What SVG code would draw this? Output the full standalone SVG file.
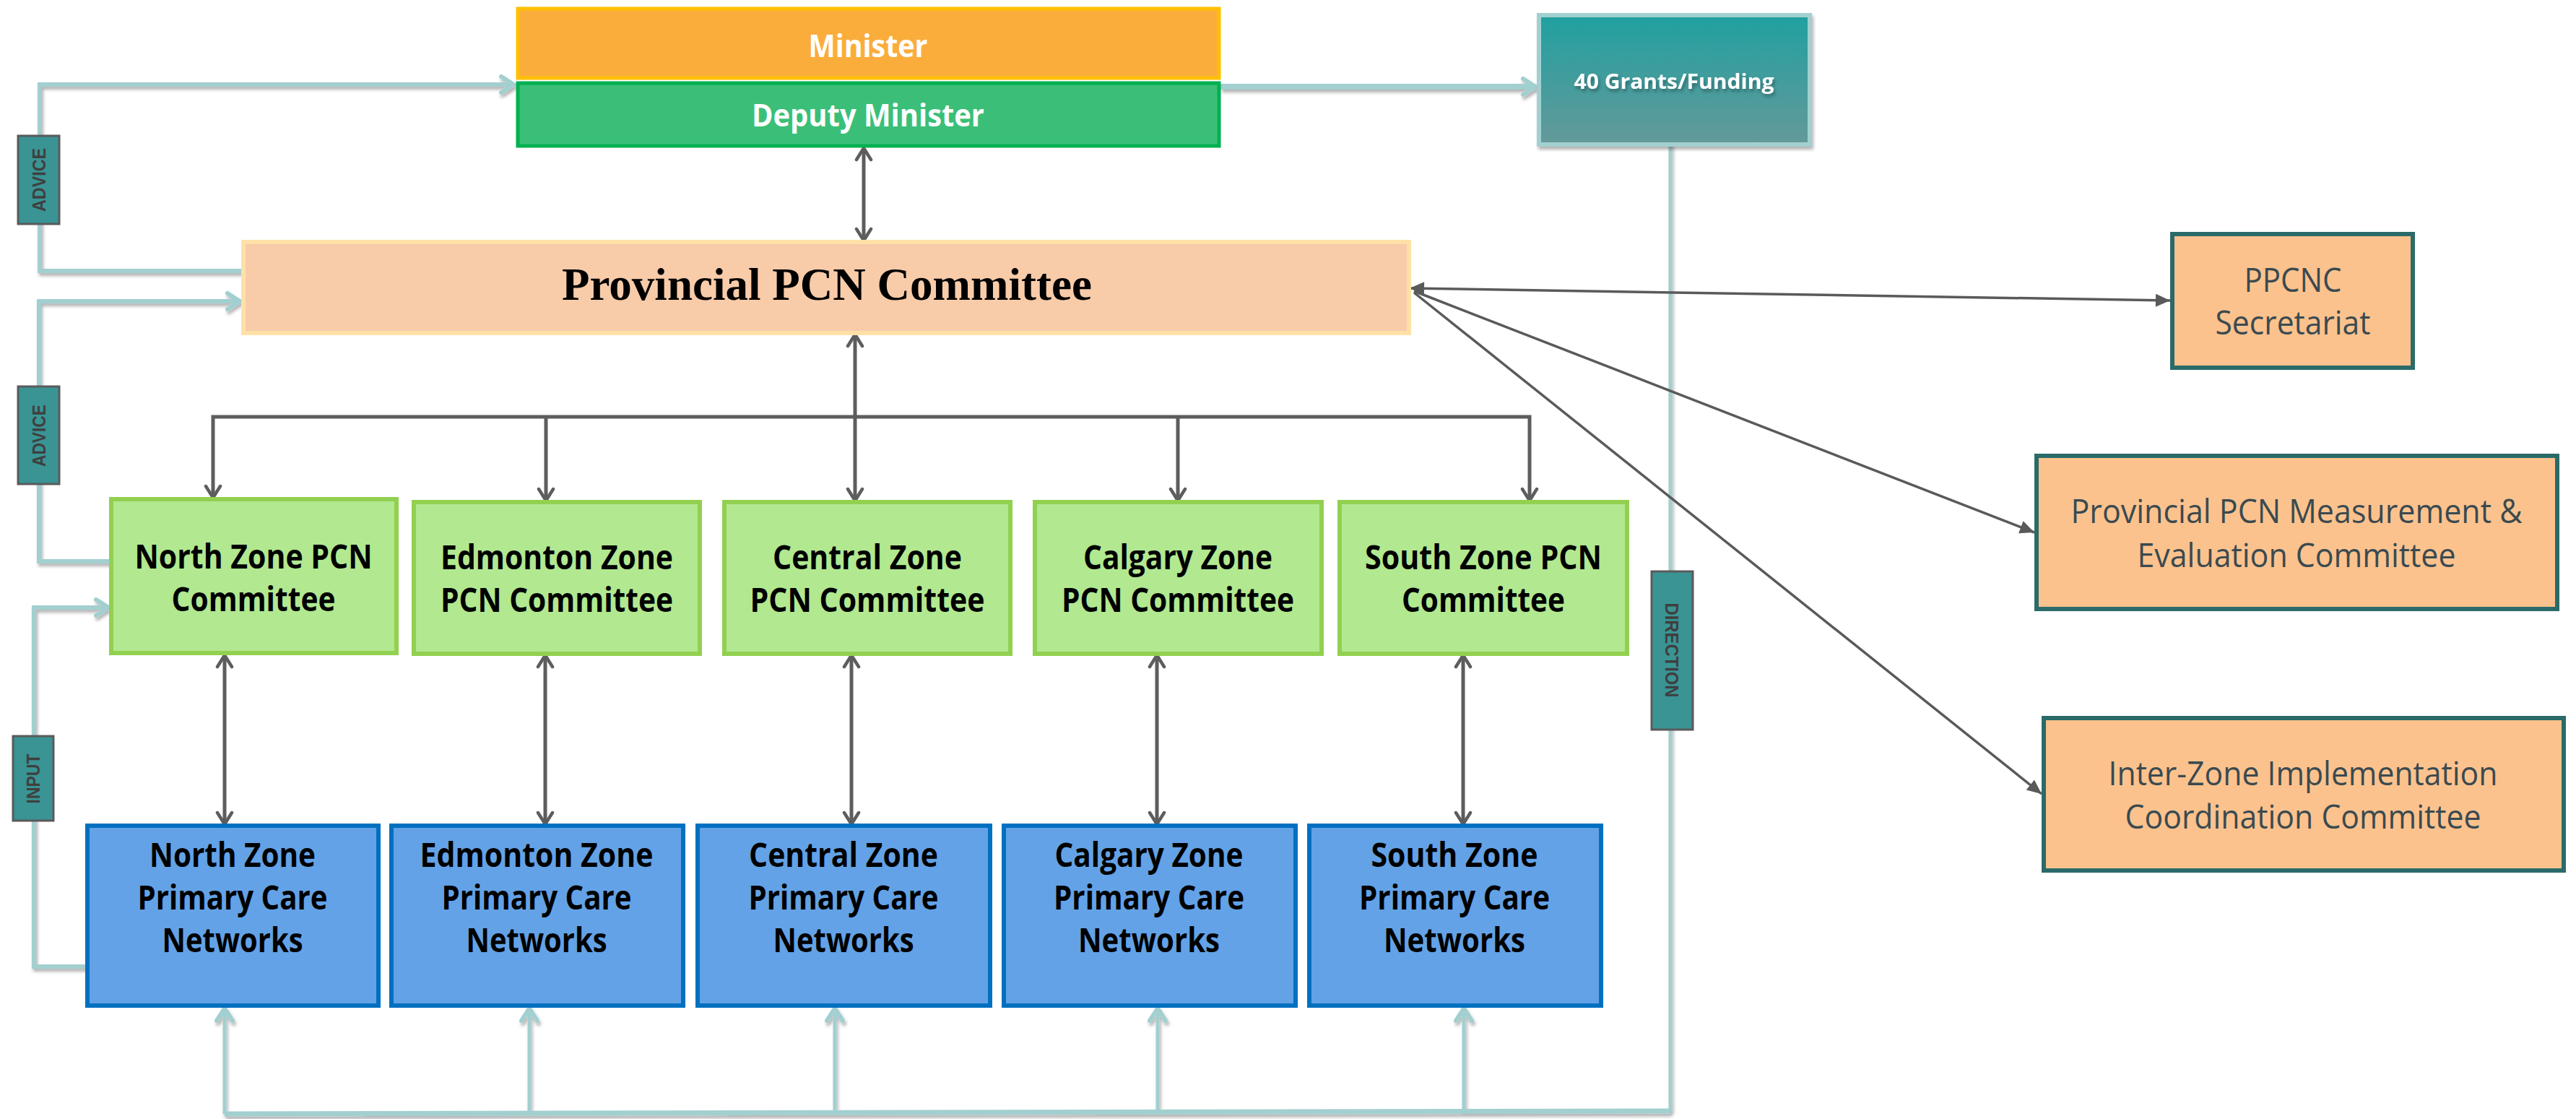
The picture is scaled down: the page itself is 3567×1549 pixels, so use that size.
<svg xmlns="http://www.w3.org/2000/svg" width="3567" height="1549" viewBox="0 0 3567 1549">
<style>
.sans{font-family:"Open Sans","Noto Sans","Liberation Sans",sans-serif;text-anchor:middle}
.b{font-weight:bold}
.zone{font-size:47px;fill:#000}
.side{font-size:45px;fill:#3A4A50}
.lbl{font-family:"Liberation Sans",Arial,sans-serif;font-weight:bold;font-size:25px;fill:#3F3F3F;text-anchor:middle}
.green{fill:#B1E890;stroke:#92D050;stroke-width:6}
.blue{fill:#63A2E6;stroke:#0070C0;stroke-width:6}
.peach{fill:#FCC28D;stroke:#2A6B6A;stroke-width:6}
.tag{fill:#3A9494;stroke:#5A5A5A;stroke-width:3}
.dk{fill:none;stroke:#5D5D5D;stroke-width:5}
.thin{fill:none;stroke:#5A5A5A;stroke-width:3.5}
.lb{fill:none;stroke:#A2CFD0}
</style>
<defs>
<linearGradient id="gg" x1="0" y1="0" x2="0" y2="1">
<stop offset="0" stop-color="#21A0A0"/>
<stop offset="1" stop-color="#64999A"/>
</linearGradient>
<filter id="sh" filterUnits="userSpaceOnUse" x="0" y="0" width="3567" height="1549">
<feDropShadow dx="2" dy="4" stdDeviation="2" flood-color="#000" flood-opacity="0.3"/>
</filter>
<marker id="lbm" viewBox="-24 -16 28 32" refX="0" refY="0" markerWidth="28" markerHeight="32" markerUnits="userSpaceOnUse" orient="auto">
<path d="M-17,-11 L0,0 L-17,11" fill="none" stroke="#A2CFD0" stroke-width="6" stroke-linecap="round"/>
</marker>
<marker id="dv" viewBox="-22 -14 26 28" refX="0" refY="0" markerWidth="26" markerHeight="28" markerUnits="userSpaceOnUse" orient="auto-start-reverse">
<path d="M-16,-10 L0,0 L-16,10" fill="none" stroke="#5D5D5D" stroke-width="4.5" stroke-linecap="round"/>
</marker>
<marker id="ft" viewBox="-24 -12 26 24" refX="0" refY="0" markerWidth="26" markerHeight="24" markerUnits="userSpaceOnUse" orient="auto-start-reverse">
<path d="M0,0 L-20,-9 L-20,9 Z" fill="#5A5A5A"/>
</marker>
</defs>
<rect width="3567" height="1549" fill="#fff"/>

<g id="connectors">
<g filter="url(#sh)">
<path class="lb" stroke-width="8" d="M1690,120 H2126" marker-end="url(#lbm)"/>
<path class="lb" stroke-width="6" d="M336,375 H55 V117 H711" marker-end="url(#lbm)"/>
<path class="lb" stroke-width="6" d="M154,777 H54 V417 H332" marker-end="url(#lbm)"/>
<path class="lb" stroke-width="6" d="M121,1338 H47 V841 H150" marker-end="url(#lbm)"/>
<path class="lb" stroke-width="5" d="M2313,195 V1539"/>
<path class="lb" stroke-width="7" d="M2313,1538 L311,1542"/>
<path class="lb" stroke-width="5" d="M311,1542 V1396" marker-end="url(#lbm)"/>
<path class="lb" stroke-width="5" d="M733,1541 V1396" marker-end="url(#lbm)"/>
<path class="lb" stroke-width="5" d="M1156,1541 V1396" marker-end="url(#lbm)"/>
<path class="lb" stroke-width="5" d="M1603,1540 V1396" marker-end="url(#lbm)"/>
<path class="lb" stroke-width="5" d="M2027,1539 V1396" marker-end="url(#lbm)"/>
</g>
<path class="dk" d="M1196,205 V333" marker-start="url(#dv)" marker-end="url(#dv)"/>
<path class="dk" d="M1184,463 V693" marker-start="url(#dv)" marker-end="url(#dv)"/>
<path class="dk" d="M295,689 V577 H2118 V693" marker-start="url(#dv)" marker-end="url(#dv)"/>
<path class="dk" d="M756,577 V693" marker-end="url(#dv)"/>
<path class="dk" d="M1631,577 V693" marker-end="url(#dv)"/>
<path class="dk" d="M311,907 V1141" marker-start="url(#dv)" marker-end="url(#dv)"/>
<path class="dk" d="M755,907 V1141" marker-start="url(#dv)" marker-end="url(#dv)"/>
<path class="dk" d="M1179,907 V1141" marker-start="url(#dv)" marker-end="url(#dv)"/>
<path class="dk" d="M1602,907 V1141" marker-start="url(#dv)" marker-end="url(#dv)"/>
<path class="dk" d="M2026,907 V1141" marker-start="url(#dv)" marker-end="url(#dv)"/>
<path class="thin" stroke-width="4" d="M1952,399 L3005,416" marker-start="url(#ft)" marker-end="url(#ft)"/>
<path class="thin" d="M1958,403 L2817,737" marker-end="url(#ft)"/>
<path class="thin" d="M1958,405 L2827,1099" marker-end="url(#ft)"/>
</g>

<g id="labels">
<rect class="tag" x="25" y="188" width="57" height="122"/>
<text class="lbl" transform="translate(54,249) rotate(-90)" dy="9" textLength="88" lengthAdjust="spacingAndGlyphs">ADVICE</text>
<rect class="tag" x="25" y="535" width="57" height="135"/>
<text class="lbl" transform="translate(54,603) rotate(-90)" dy="9" textLength="86" lengthAdjust="spacingAndGlyphs">ADVICE</text>
<rect class="tag" x="18" y="1019" width="56" height="117"/>
<text class="lbl" transform="translate(46,1078) rotate(-90)" dy="9" textLength="69" lengthAdjust="spacingAndGlyphs">INPUT</text>
<rect class="tag" x="2287" y="791" width="57" height="219"/>
<text class="lbl" transform="translate(2315,900) rotate(90)" dy="9" textLength="131" lengthAdjust="spacingAndGlyphs">DIRECTION</text>
</g>

<g id="minister">
<rect x="717" y="12" width="971" height="96" fill="#FBAD3C" stroke="#FFC000" stroke-width="5"/>
<text class="sans b" x="1202" y="79" font-size="43" fill="#fff" textLength="165" lengthAdjust="spacingAndGlyphs">Minister</text>
</g>
<g id="deputy-minister">
<rect x="717" y="115" width="971" height="87" fill="#3BBF78" stroke="#00B050" stroke-width="5"/>
<text class="sans b" x="1202" y="175" font-size="43" fill="#fff" textLength="322" lengthAdjust="spacingAndGlyphs">Deputy Minister</text>
</g>
<g id="grants">
<rect x="2131" y="21" width="375" height="179" fill="url(#gg)" stroke="#A2D0D0" stroke-width="6" filter="url(#sh)"/>
<text class="sans b" x="2318" y="123" font-size="29" fill="#fff" textLength="277" lengthAdjust="spacingAndGlyphs" filter="url(#sh)">40 Grants/Funding</text>
</g>
<g id="provincial-pcn">
<rect x="337" y="335" width="1614" height="126" fill="#F8CBA9" stroke="#FFE1A8" stroke-width="6"/>
<text x="1145" y="415" font-family="'Liberation Serif','Times New Roman',serif" font-weight="bold" font-size="64" text-anchor="middle" fill="#000" textLength="734" lengthAdjust="spacingAndGlyphs">Provincial PCN Committee</text>
</g>
<g id="ppcnc">
<rect class="peach" x="3008" y="324" width="333" height="185"/>
<text class="sans side" x="3175" y="404" textLength="135" lengthAdjust="spacingAndGlyphs">PPCNC</text>
<text class="sans side" x="3175" y="463" textLength="215" lengthAdjust="spacingAndGlyphs">Secretariat</text>
</g>
<g id="measurement">
<rect class="peach" x="2820" y="631" width="721" height="212"/>
<text class="sans side" x="3180" y="724" textLength="625" lengthAdjust="spacingAndGlyphs">Provincial PCN Measurement &amp;</text>
<text class="sans side" x="3180" y="785" textLength="441" lengthAdjust="spacingAndGlyphs">Evaluation Committee</text>
</g>
<g id="interzone">
<rect class="peach" x="2830" y="994" width="720" height="211"/>
<text class="sans side" x="3189" y="1087" textLength="539" lengthAdjust="spacingAndGlyphs">Inter-Zone Implementation</text>
<text class="sans side" x="3189" y="1147" textLength="493" lengthAdjust="spacingAndGlyphs">Coordination Committee</text>
</g>

<g id="north-committee">
<rect class="green" x="154" y="691" width="395" height="213"/>
<text class="sans b zone" x="351" y="787" textLength="329" lengthAdjust="spacingAndGlyphs">North Zone PCN</text>
<text class="sans b zone" x="351" y="846" textLength="227" lengthAdjust="spacingAndGlyphs">Committee</text>
</g>
<g id="edmonton-committee">
<rect class="green" x="573" y="695" width="396" height="210"/>
<text class="sans b zone" x="771" y="788" textLength="322" lengthAdjust="spacingAndGlyphs">Edmonton Zone</text>
<text class="sans b zone" x="771" y="847" textLength="322" lengthAdjust="spacingAndGlyphs">PCN Committee</text>
</g>
<g id="central-committee">
<rect class="green" x="1003" y="695" width="396" height="210"/>
<text class="sans b zone" x="1201" y="788" textLength="262" lengthAdjust="spacingAndGlyphs">Central Zone</text>
<text class="sans b zone" x="1201" y="847" textLength="325" lengthAdjust="spacingAndGlyphs">PCN Committee</text>
</g>
<g id="calgary-committee">
<rect class="green" x="1433" y="695" width="397" height="210"/>
<text class="sans b zone" x="1631" y="788" textLength="262" lengthAdjust="spacingAndGlyphs">Calgary Zone</text>
<text class="sans b zone" x="1631" y="847" textLength="322" lengthAdjust="spacingAndGlyphs">PCN Committee</text>
</g>
<g id="south-committee">
<rect class="green" x="1855" y="695" width="398" height="210"/>
<text class="sans b zone" x="2054" y="788" textLength="328" lengthAdjust="spacingAndGlyphs">South Zone PCN</text>
<text class="sans b zone" x="2054" y="847" textLength="226" lengthAdjust="spacingAndGlyphs">Committee</text>
</g>

<g id="north-pcn">
<rect class="blue" x="121" y="1143" width="403" height="249"/>
<text class="sans b zone" x="322" y="1200" textLength="230" lengthAdjust="spacingAndGlyphs">North Zone</text>
<text class="sans b zone" x="322" y="1259" textLength="263" lengthAdjust="spacingAndGlyphs">Primary Care</text>
<text class="sans b zone" x="322" y="1318" textLength="195" lengthAdjust="spacingAndGlyphs">Networks</text>
</g>
<g id="edmonton-pcn">
<rect class="blue" x="542" y="1143" width="404" height="249"/>
<text class="sans b zone" x="743" y="1200" textLength="323" lengthAdjust="spacingAndGlyphs">Edmonton Zone</text>
<text class="sans b zone" x="743" y="1259" textLength="263" lengthAdjust="spacingAndGlyphs">Primary Care</text>
<text class="sans b zone" x="743" y="1318" textLength="195" lengthAdjust="spacingAndGlyphs">Networks</text>
</g>
<g id="central-pcn">
<rect class="blue" x="966" y="1143" width="405" height="249"/>
<text class="sans b zone" x="1168" y="1200" textLength="262" lengthAdjust="spacingAndGlyphs">Central Zone</text>
<text class="sans b zone" x="1168" y="1259" textLength="263" lengthAdjust="spacingAndGlyphs">Primary Care</text>
<text class="sans b zone" x="1168" y="1318" textLength="195" lengthAdjust="spacingAndGlyphs">Networks</text>
</g>
<g id="calgary-pcn">
<rect class="blue" x="1390" y="1143" width="404" height="249"/>
<text class="sans b zone" x="1591" y="1200" textLength="261" lengthAdjust="spacingAndGlyphs">Calgary Zone</text>
<text class="sans b zone" x="1591" y="1259" textLength="264" lengthAdjust="spacingAndGlyphs">Primary Care</text>
<text class="sans b zone" x="1591" y="1318" textLength="196" lengthAdjust="spacingAndGlyphs">Networks</text>
</g>
<g id="south-pcn">
<rect class="blue" x="1813" y="1143" width="404" height="249"/>
<text class="sans b zone" x="2014" y="1200" textLength="231" lengthAdjust="spacingAndGlyphs">South Zone</text>
<text class="sans b zone" x="2014" y="1259" textLength="264" lengthAdjust="spacingAndGlyphs">Primary Care</text>
<text class="sans b zone" x="2014" y="1318" textLength="196" lengthAdjust="spacingAndGlyphs">Networks</text>
</g>
</svg>
